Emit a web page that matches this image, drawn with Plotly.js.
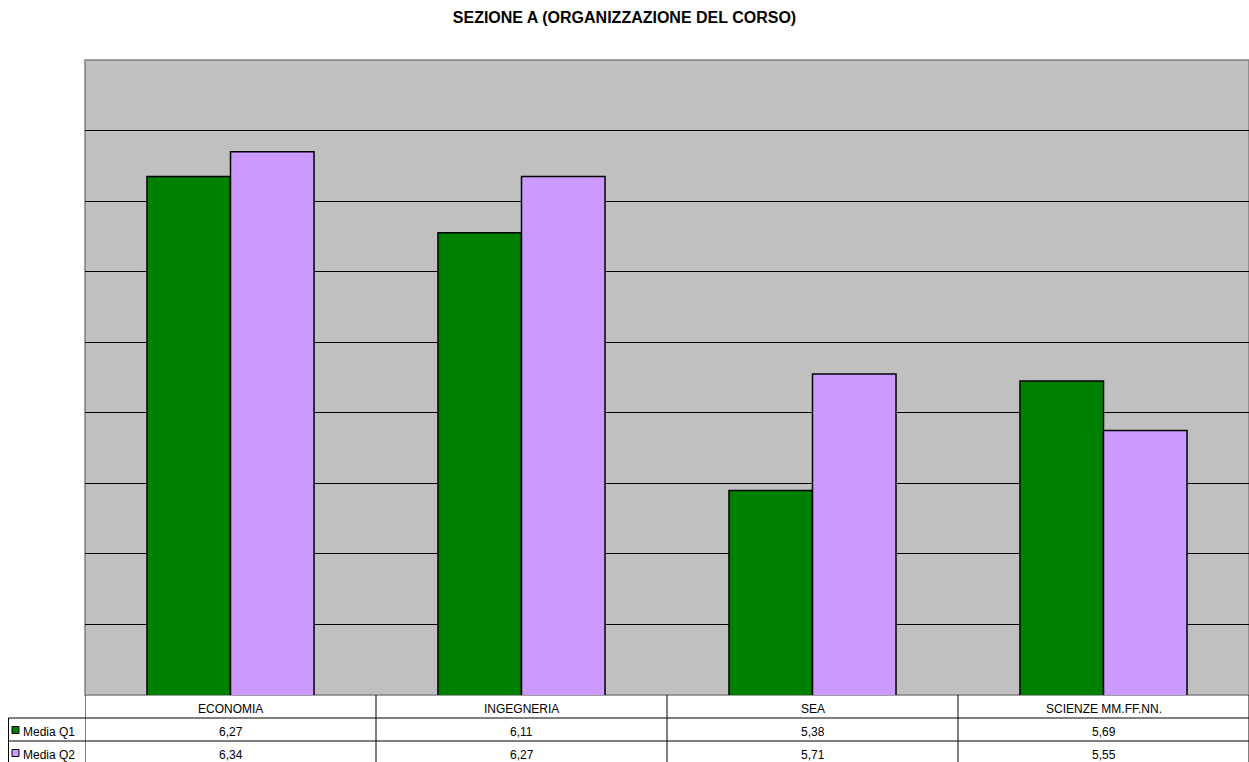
<!DOCTYPE html>
<html><head><meta charset="utf-8">
<script src="https://cdn.plot.ly/plotly-3.0.1.min.js"></script>
<style>html,body{margin:0;padding:0;background:#fff}#c{width:1249px;height:762px}</style>
</head><body><div id="c"></div>
<script>
const categories = ['ECONOMIA', 'INGEGNERIA', 'SEA', 'SCIENZE MM.FF.NN.'];
const seriesNames = ['Media Q1', 'Media Q2'];
const mediaQ1 = [6.27, 6.11, 5.38, 5.69];
const mediaQ2 = [6.34, 6.27, 5.71, 5.55];
const colors = ['#008000', '#CC99FF'];
const titleText = 'SEZIONE A (ORGANIZZAZIONE DEL CORSO)';

const W = 1249, H = 762, ML = 85, MR = 0, MT = 60, MB = 67;
const pw = W - ML - MR, ph = H - MT - MB;
const px = v => (v - ML) / pw;          // pixel -> paper x
const py = v => (H - MB - v) / ph;      // pixel -> paper y

const fmt = v => v.toFixed(2).replace('.', ',');
const font = {family: 'Liberation Sans, Arial, sans-serif', size: 12, color: '#000'};

const traces = [mediaQ1, mediaQ2].map((vals, i) => ({
  type: 'bar', name: seriesNames[i], x: categories, y: vals,
  marker: {color: colors[i], line: {color: '#000', width: 1.5}},
  hoverinfo: 'x+y'
}));

const shapes = [];
const annotations = [];
const lineC = '#000';
// horizontal table lines
[718, 741].forEach(y => shapes.push({type: 'line', xref: 'paper', yref: 'paper', x0: px(8.5), x1: 1, y0: py(y), y1: py(y), line: {color: lineC, width: 1}}));
// left border of legend column
shapes.push({type: 'line', xref: 'paper', yref: 'paper', x0: px(8.5), x1: px(8.5), y0: py(718), y1: py(762), line: {color: lineC, width: 1}});
// category boundaries
for (let i = 0; i <= categories.length; i++) {
  shapes.push({type: 'line', xref: 'x', yref: 'paper', x0: i - 0.5, x1: i - 0.5, y0: 0, y1: py(762), line: {color: lineC, width: 1}});
}
// header and values
categories.forEach((c, i) => {
  annotations.push({xref: 'x', yref: 'paper', x: i, y: py(709), text: c, showarrow: false, font: font, yanchor: 'middle'});
  annotations.push({xref: 'x', yref: 'paper', x: i, y: py(732), text: fmt(mediaQ1[i]), showarrow: false, font: font, yanchor: 'middle'});
  annotations.push({xref: 'x', yref: 'paper', x: i, y: py(755), text: fmt(mediaQ2[i]), showarrow: false, font: font, yanchor: 'middle'});
});
// legend keys
[[730, 732, 0], [753, 755, 1]].forEach(([ys, yt, i]) => {
  shapes.push({type: 'rect', xref: 'paper', yref: 'paper', x0: px(12), x1: px(19), y0: py(ys - 3.5), y1: py(ys + 3.5), fillcolor: colors[i], line: {color: '#000', width: 1}});
  annotations.push({xref: 'paper', yref: 'paper', x: px(21), y: py(yt), text: seriesNames[i], showarrow: false, font: font, xanchor: 'left', yanchor: 'middle'});
});
// plot border
shapes.push({type: 'rect', xref: 'paper', yref: 'paper', x0: 0, x1: 1, y0: 0, y1: 1, line: {color: '#808080', width: 1.5}, layer: 'below', fillcolor: 'rgba(0,0,0,0)'});

const layout = {
  width: W, height: H,
  margin: {l: ML, r: MR, t: MT, b: MB, pad: 0},
  paper_bgcolor: '#fff', plot_bgcolor: '#C0C0C0',
  title: {text: '<b>' + titleText + '</b>', font: {family: 'Liberation Sans, Arial, sans-serif', size: 16, color: '#000'}, x: 0.5, xref: 'container', y: 1 - 17 / H, yref: 'container', yanchor: 'middle'},
  barmode: 'group', bargap: 0.426, bargroupgap: 0,
  showlegend: false,
  xaxis: {showticklabels: false, ticks: '', showgrid: false, zeroline: false, showline: false, range: [-0.5, 3.5]},
  yaxis: {range: [4.8, 6.6], dtick: 0.2, tick0: 4.8, showticklabels: false, ticks: '', showgrid: true, gridcolor: '#000', gridwidth: 1, zeroline: false, showline: false},
  shapes: shapes, annotations: annotations
};
Plotly.newPlot('c', traces, layout, {displayModeBar: false, staticPlot: true});
</script></body></html>
